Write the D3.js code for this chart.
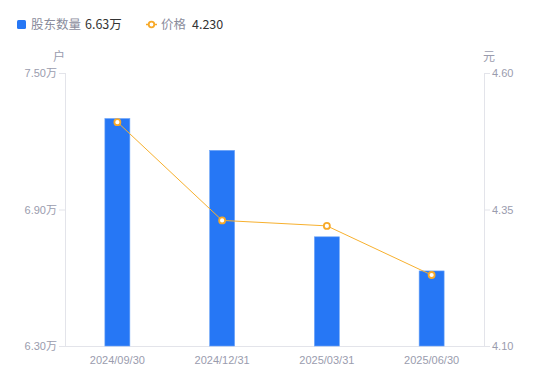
<!DOCTYPE html>
<html>
<head>
<meta charset="utf-8">
<script src="https://cdn.jsdelivr.net/npm/d3@7"></script>
<style>
  body { margin: 0; background: #fff; font-family: "Noto Sans CJK SC", "Noto Sans", sans-serif; }
  .axis text { fill: #9a9cae; font-size: 11px; font-family: "Liberation Sans", "Noto Sans CJK SC", sans-serif; }
  .axis path, .axis line { stroke: #e3e4ea; }
</style>
</head>
<body>
<script>
// reporting dates
var dates = ["2024/09/30", "2024/12/31", "2025/03/31", "2025/06/30"];
// shareholder count, in 万
var holders = [7.30, 7.16, 6.78, 6.63];
// share price, 元
var prices = [4.51, 4.33, 4.32, 4.23];
var leftTicks = [6.30, 6.90, 7.50];
var rightTicks = [4.10, 4.35, 4.60];

var width = 550, height = 381;
var margin = {top: 73, right: 66, bottom: 35, left: 65};
var innerW = width - margin.left - margin.right,
    innerH = height - margin.top - margin.bottom;

var svg = d3.select("body").append("svg")
    .attr("width", width)
    .attr("height", height);

var g = svg.append("g")
    .attr("transform", "translate(" + margin.left + "," + margin.top + ")");

var x = d3.scaleBand().domain(dates).range([0, innerW]);
var yL = d3.scaleLinear().domain([6.30, 7.50]).range([innerH, 0]);
var yR = d3.scaleLinear().domain([4.10, 4.60]).range([innerH, 0]);

// axes
g.append("g")
    .attr("class", "axis")
    .attr("transform", "translate(0," + innerH + ")")
    .call(d3.axisBottom(x).tickSize(0).tickPadding(10))
    .call(function(s) { s.select(".domain").attr("d", "M-6,0.5H" + (innerW + 6)); });

g.append("g")
    .attr("class", "axis")
    .call(d3.axisLeft(yL).tickValues(leftTicks).tickSize(6).tickPadding(2)
      .tickFormat(function(d) { return d3.format(".2f")(d) + "万"; }))
    .call(function(s) { s.select(".domain").attr("d", "M0.5,0V" + innerH); });

g.append("g")
    .attr("class", "axis")
    .attr("transform", "translate(" + innerW + ",0)")
    .call(d3.axisRight(yR).tickValues(rightTicks).tickSize(6).tickPadding(2)
      .tickFormat(d3.format(".2f")))
    .call(function(s) { s.select(".domain").attr("d", "M0.5,0V" + innerH); });

// unit labels
svg.append("text").attr("x", 59).attr("y", 61).attr("text-anchor", "middle")
    .attr("fill", "#9a9cae").style("font-size", "12px").text("户");
svg.append("text").attr("x", 489).attr("y", 61).attr("text-anchor", "middle")
    .attr("fill", "#9a9cae").style("font-size", "12px").text("元");

// bars
var barW = 25;
g.selectAll(".bar")
    .data(holders)
  .enter().append("rect")
    .attr("class", "bar")
    .attr("x", function(d, i) { return x(dates[i]) + x.bandwidth() / 2 - barW / 2; })
    .attr("y", function(d) { return yL(d); })
    .attr("width", barW)
    .attr("height", function(d) { return innerH - yL(d); })
    .attr("fill", "#2677f5")
    .attr("stroke", "#6ea5f8")
    .attr("stroke-width", 0.6);

// price line
var line = d3.line()
    .x(function(d, i) { return x(dates[i]) + x.bandwidth() / 2; })
    .y(function(d) { return yR(d); });

g.append("path")
    .datum(prices)
    .attr("d", line)
    .attr("fill", "none")
    .attr("stroke", "#f7b02e")
    .attr("stroke-width", 1);

g.selectAll(".pt")
    .data(prices)
  .enter().append("circle")
    .attr("class", "pt")
    .attr("cx", function(d, i) { return x(dates[i]) + x.bandwidth() / 2; })
    .attr("cy", function(d) { return yR(d); })
    .attr("r", 3)
    .attr("fill", "#fff")
    .attr("stroke", "#f7a928")
    .attr("stroke-width", 1.8);

// legend
var lg = svg.append("g").style("font-size", "12.5px");
lg.append("rect").attr("x", 17).attr("y", 20).attr("width", 9).attr("height", 9)
    .attr("rx", 1.5).attr("fill", "#2677f5");
lg.append("text").attr("x", 31).attr("y", 29).attr("fill", "#8a8c9c").text("股东数量");
lg.append("text").attr("x", 85).attr("y", 29).attr("fill", "#333").text(d3.format(".2f")(holders[3]) + "万");

lg.append("line").attr("x1", 146).attr("x2", 157).attr("y1", 24.5).attr("y2", 24.5)
    .attr("stroke", "#f7a928").attr("stroke-width", 1.5);
lg.append("circle").attr("cx", 151.5).attr("cy", 24.5).attr("r", 2.8)
    .attr("fill", "#fff").attr("stroke", "#f7a928").attr("stroke-width", 1.8);
lg.append("text").attr("x", 161).attr("y", 29).attr("fill", "#8a8c9c").text("价格");
lg.append("text").attr("x", 192).attr("y", 29).attr("fill", "#333").text(d3.format(".3f")(prices[3]));
</script>
</body>
</html>
